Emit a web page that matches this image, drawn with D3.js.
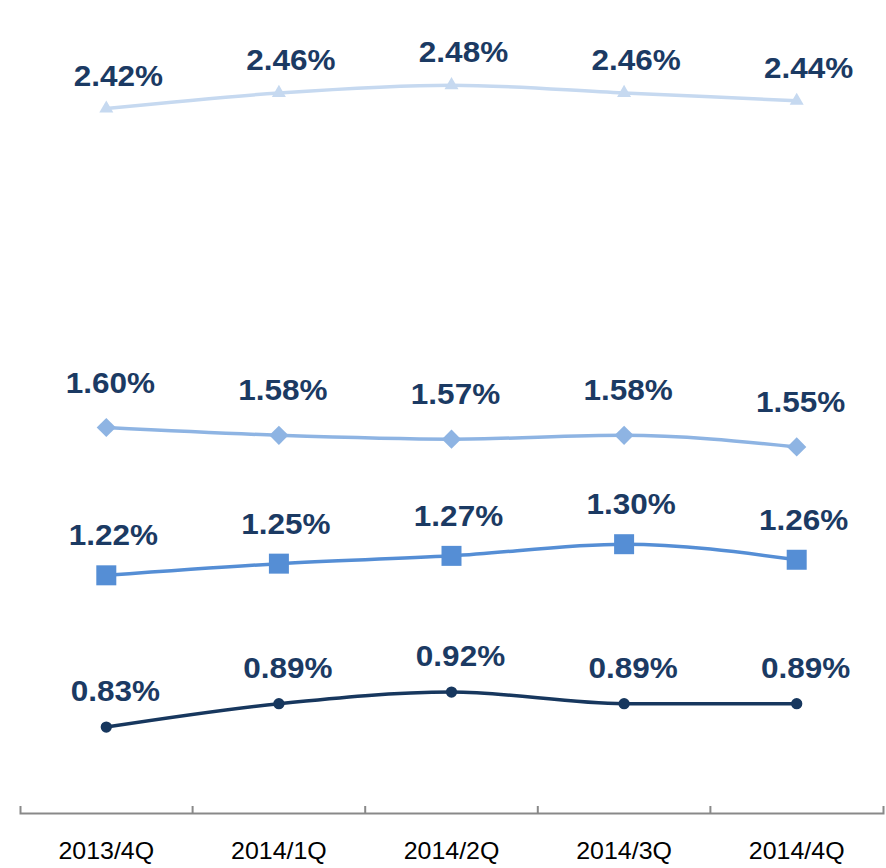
<!DOCTYPE html>
<html>
<head>
<meta charset="utf-8">
<script src="https://cdn.jsdelivr.net/npm/d3@7"></script>
<style>
  body { margin: 0; background: #fff; }
  svg { display: block; font-family: Arial, "Liberation Sans", sans-serif; }
</style>
</head>
<body>
<svg id="chart"></svg>
<script>
const width = 886;
const height = 868;

// 数据
const quarters = ['2013/4Q', '2014/1Q', '2014/2Q', '2014/3Q', '2014/4Q'];
const triangleValues = [2.42, 2.46, 2.48, 2.46, 2.44];
const diamondValues = [1.60, 1.58, 1.57, 1.58, 1.55];
const squareValues = [1.22, 1.25, 1.27, 1.30, 1.26];
const circleValues = [0.83, 0.89, 0.92, 0.89, 0.89];

const series = [
  { values: triangleValues, color: '#c6d9f0', symbol: 'triangle', dx: 12, dy: 23 },
  { values: diamondValues, color: '#8eb4e3', symbol: 'diamond', dx: 4, dy: 35 },
  { values: squareValues, color: '#558ed5', symbol: 'square', dx: 7, dy: 30 },
  { values: circleValues, color: '#17375e', symbol: 'circle', dx: 9, dy: 26 }
];

const svg = d3.select('#chart')
  .attr('width', width)
  .attr('height', height);

const axisY = 813;

const xScale = d3.scaleBand()
  .domain(quarters)
  .range([20, 883])
  .padding(0);

const yScale = d3.scaleLinear()
  .domain([0.6, 2.6])
  .range([816.5, 38.5]);

const cx = (d, i) => xScale(quarters[i]) + xScale.bandwidth() / 2;

// 横坐标轴
const xAxis = d3.axisBottom(xScale)
  .tickSizeInner(0)
  .tickSizeOuter(-7)
  .tickPadding(29);

const axisG = svg.append('g')
  .attr('transform', `translate(0, ${axisY})`)
  .call(xAxis);

axisG.select('.domain')
  .attr('stroke', '#898989')
  .attr('stroke-width', 2);

axisG.selectAll('.tick text')
  .attr('font-size', 24)
  .attr('font-family', 'Arial, "Liberation Sans", sans-serif')
  .attr('fill', '#000')
  .attr('transform', 'scale(1.04, 1)');

// 分类之间的刻度线
axisG.selectAll('.sep')
  .data(quarters.slice(1))
  .enter()
  .append('line')
  .attr('class', 'sep')
  .attr('x1', (d) => xScale(d))
  .attr('x2', (d) => xScale(d))
  .attr('y1', 0)
  .attr('y2', -7)
  .attr('stroke', '#898989')
  .attr('stroke-width', 2);

const line = d3.line()
  .x(cx)
  .y((d) => yScale(d))
  .curve(d3.curveMonotoneX);

const symbols = {
  triangle: d3.symbol(d3.symbolTriangle, 85),
  diamond: d3.symbol(d3.symbolSquare, 185),
  square: d3.symbol(d3.symbolSquare, 400),
  circle: d3.symbol(d3.symbolCircle, 100)
};

series.forEach((s) => {
  const g = svg.append('g');

  g.append('path')
    .datum(s.values)
    .attr('d', line)
    .attr('fill', 'none')
    .attr('stroke', s.color)
    .attr('stroke-width', 3.5);

  g.selectAll('.marker')
    .data(s.values)
    .enter()
    .append('path')
    .attr('class', 'marker')
    .attr('d', symbols[s.symbol])
    .attr('fill', s.color)
    .attr('transform', (d, i) => {
      const rot = s.symbol === 'diamond' ? ' rotate(45)' : '';
      return `translate(${cx(d, i)}, ${yScale(d)})${rot}`;
    });

  // 数据标签
  g.selectAll('.label')
    .data(s.values)
    .enter()
    .append('text')
    .attr('class', 'label')
    .attr('text-anchor', 'middle')
    .attr('font-size', 30)
    .attr('font-weight', 'bold')
    .attr('fill', '#1b3a63')
    .attr('transform', (d, i) => `translate(${cx(d, i) + s.dx}, ${yScale(d) - s.dy}) scale(1.05, 1)`)
    .text((d) => d.toFixed(2) + '%');
});
</script>
</body>
</html>
